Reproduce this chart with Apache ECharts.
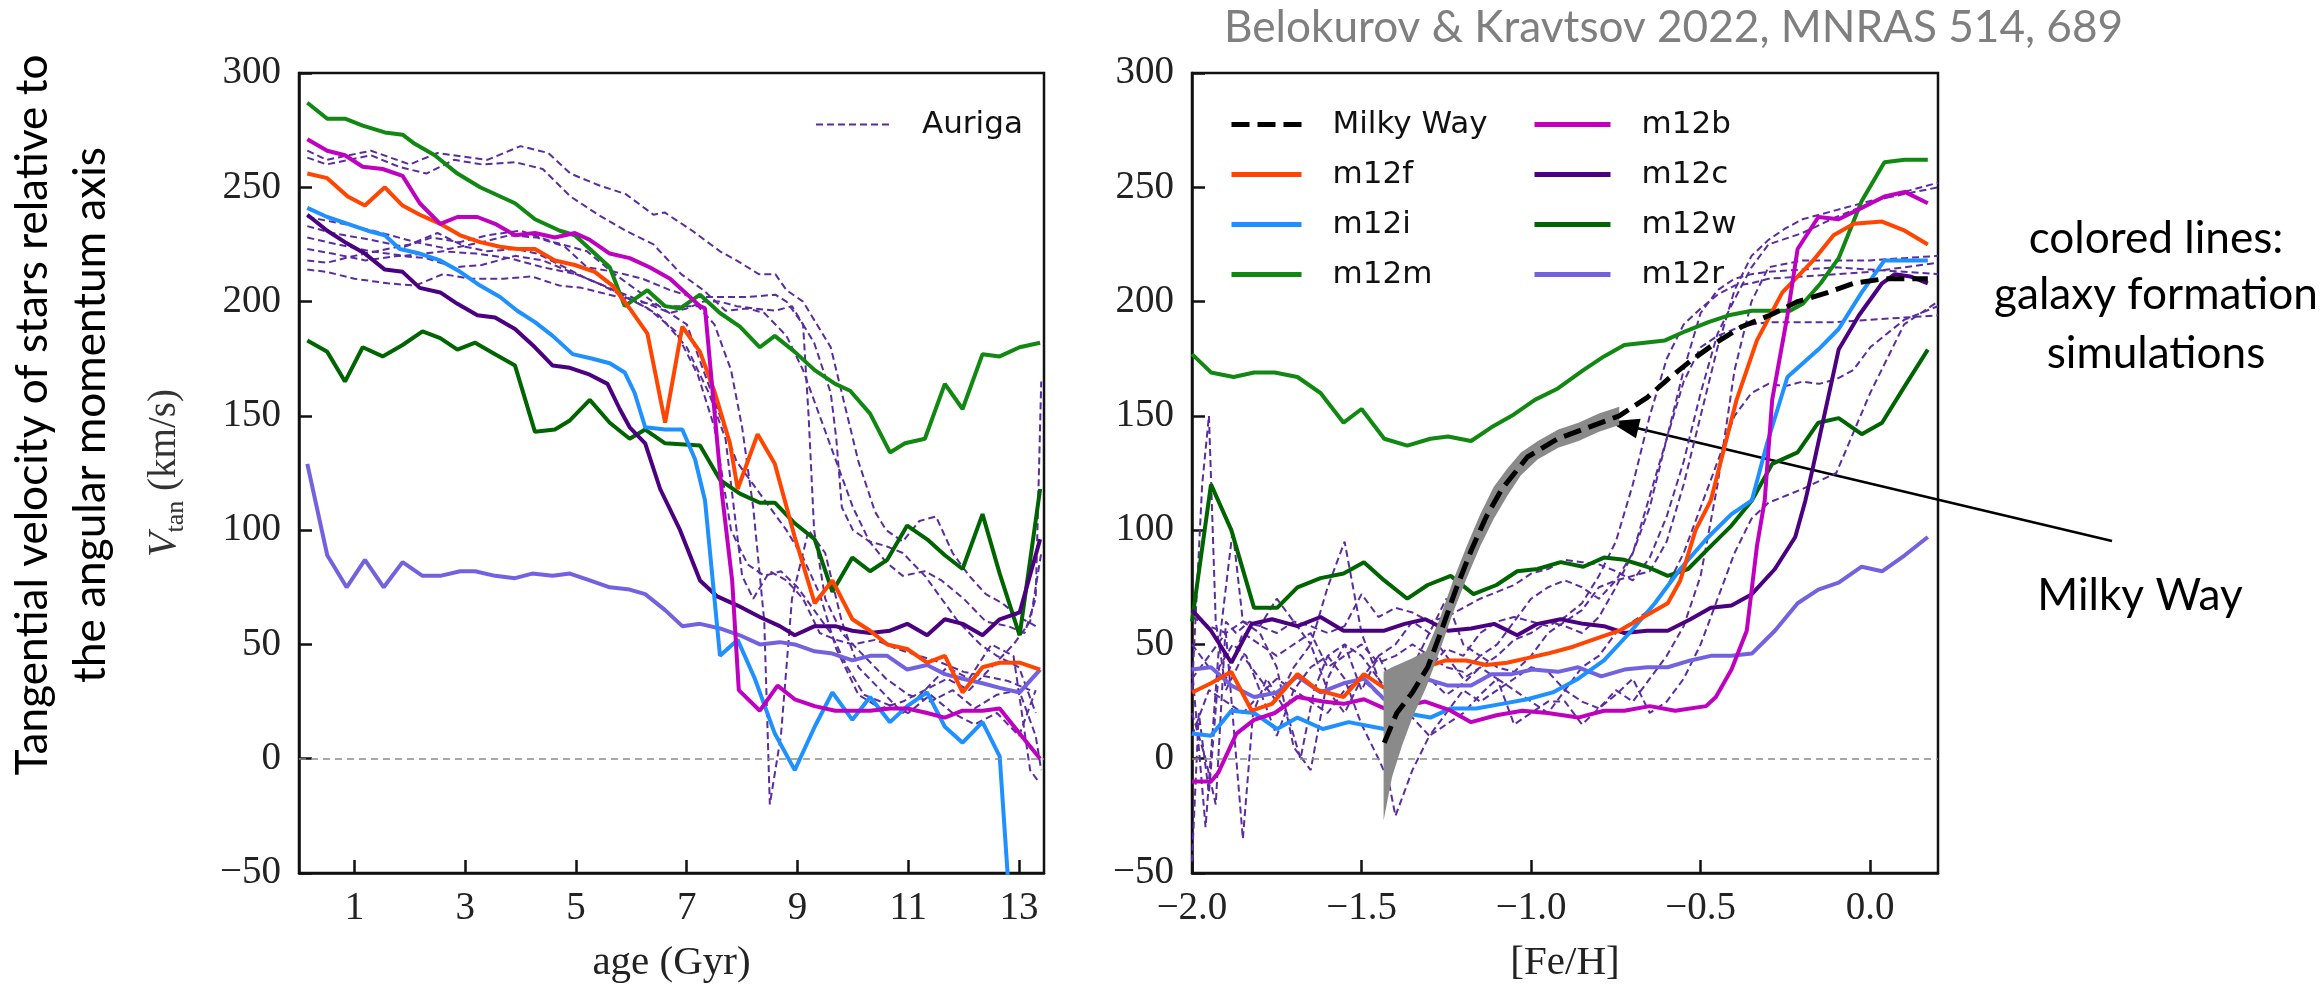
<!DOCTYPE html>
<html><head><meta charset="utf-8">
<script src="https://cdn.jsdelivr.net/npm/echarts@6/dist/echarts.min.js"></script>
<style>html,body{margin:0;padding:0;background:#fff}#c{width:2323px;height:989px}</style>
</head><body><div id="c"></div>
<script>
// ---------- LEFT PANEL: age (Gyr) vs V_tan ----------
const ageM12m = [0.15,0.51,0.83,1.15,1.55,1.87,2.09,2.45,2.86,3.27,3.90,4.26,4.71,4.98,5.34,5.61,5.88,6.29,6.61,6.88,7.24,7.60,7.96,8.32,8.59,8.95,9.31,9.68,9.95,10.31,10.67,10.94,11.30,11.66,11.98,12.34,12.65,13.01,13.38];
const vAgeM12m = [287,280,280,277,274,273,269,264,256,250,243,236,231,229,221,215,198,205,198,197,203,195,189,180,185,178,170,164,161,151,134,138,140,164,153,177,176,180,182];
const ageM12w = [0.15,0.51,0.83,1.15,1.51,1.87,2.23,2.55,2.86,3.18,3.54,3.90,4.26,4.62,4.89,5.25,5.61,5.97,6.25,6.61,7.24,7.60,7.96,8.32,8.59,8.95,9.31,9.63,9.99,10.31,10.62,10.98,11.34,11.66,11.98,12.34,12.65,13.01,13.38];
const vAgeM12w = [183,178,165,180,176,181,187,184,179,182,177,172,143,144,148,157,147,140,144,138,137,122,116,112,112,103,96,73,88,82,87,102,96,89,83,107,81,54,118];
const ageM12b = [0.15,0.51,0.83,1.15,1.51,1.87,2.18,2.55,2.86,3.22,3.54,3.90,4.26,4.62,4.98,5.25,5.61,5.97,6.33,6.70,6.97,7.24,7.33,7.64,7.82,7.94,8.32,8.64,8.95,9.31,9.68,9.99,10.31,10.67,10.98,11.34,11.66,11.98,12.34,12.65,13.01,13.38];
const vAgeM12b = [271,266,264,259,258,255,243,234,237,237,234,229,230,228,230,227,221,219,215,210,204,198,197,115,78,30,21,32,26,23,21,21,21,22,22,20,18,21,21,22,11,0];
const ageM12f = [0.15,0.51,0.88,1.19,1.55,1.87,2.18,2.55,2.91,3.27,3.63,3.94,4.26,4.62,4.98,5.34,5.66,5.97,6.29,6.61,6.92,7.24,7.51,7.78,7.92,8.28,8.59,8.95,9.31,9.63,9.99,10.31,10.62,10.98,11.34,11.66,11.98,12.34,12.65,13.01,13.38];
const vAgeM12f = [256,254,246,242,250,242,238,234,229,226,224,223,223,218,216,213,207,197,186,147,189,178,160,138,118,142,129,97,68,78,61,56,50,48,42,45,29,40,42,42,39];
const ageM12i = [0.15,0.51,0.88,1.24,1.55,1.82,2.18,2.55,2.91,3.27,3.63,3.94,4.26,4.58,4.94,5.30,5.61,5.88,6.06,6.25,6.61,6.92,7.15,7.33,7.60,7.92,8.23,8.59,8.95,9.31,9.63,9.99,10.31,10.67,10.98,11.34,11.66,11.98,12.34,12.65,12.82];
const vAgeM12i = [241,237,234,231,229,223,221,218,213,207,202,196,191,185,177,175,173,169,160,145,144,144,131,113,45,52,35,11,-5,14,29,17,27,16,23,29,14,7,16,1,-60];
const ageM12c = [0.15,0.51,0.83,1.19,1.55,1.87,2.18,2.55,2.86,3.22,3.54,3.90,4.26,4.58,4.89,5.25,5.57,5.79,5.97,6.25,6.52,6.88,7.24,7.55,7.92,8.32,8.68,8.95,9.31,9.68,9.99,10.31,10.67,10.98,11.34,11.66,11.98,12.34,12.65,13.01,13.38];
const vAgeM12c = [238,231,226,221,214,213,206,204,199,194,193,188,180,172,171,168,164,153,145,138,118,100,78,71,67,62,58,54,58,58,56,55,56,59,54,61,59,54,61,64,96];
const ageM12r = [0.15,0.51,0.86,1.19,1.53,1.87,2.23,2.55,2.91,3.18,3.54,3.90,4.21,4.58,4.89,5.25,5.61,5.97,6.25,6.61,6.92,7.24,7.60,7.96,8.32,8.68,8.95,9.31,9.63,9.99,10.31,10.62,10.98,11.34,11.66,11.98,12.34,12.65,13.01,13.38];
const vAgeM12r = [129,89,75,87,75,86,80,80,82,82,80,79,81,80,81,78,75,74,72,65,58,59,57,54,50,51,50,47,46,43,45,45,39,41,37,35,33,31,29,39];

// Auriga (left panel), [age, V_tan]
const aurAge1 = [[0.15,266],[0.5,262],[1.3,266],[2.0,260],[2.5,265],[3.4,262],[4.0,268],[4.5,265],[4.9,256],[5.4,251],[5.9,247],[6.4,238],[6.6,239],[7.1,231],[7.6,222],[7.9,218],[8.3,212],[8.6,212],[8.8,205],[9.1,200],[9.3,192],[9.6,180],[9.8,160],[10.1,130],[10.4,108],[10.6,100],[10.9,95],[11.2,104],[11.5,106],[11.8,90],[12.1,80],[12.4,72],[12.7,68],[13.0,62],[13.3,58]];
const aurAge2 = [[0.15,263],[0.5,260],[0.9,262],[1.3,264],[1.8,259],[2.3,256],[2.8,262],[3.3,260],[3.9,261],[4.4,258],[4.9,246],[5.4,238],[5.9,231],[6.4,225],[6.9,212],[7.3,205],[7.7,196],[8.1,197],[8.4,195],[8.8,185],[9.1,170],[9.4,150],[9.7,130],[10.0,110],[10.3,95],[10.6,86],[10.9,80],[11.3,82],[11.6,78],[12.0,70],[12.4,60],[12.8,58],[13.1,55],[13.3,70],[13.4,165]];
const aurAge3 = [[0.15,237],[0.8,234],[1.5,230],[2.1,226],[2.7,223],[3.3,226],[3.8,229],[4.3,228],[4.8,224],[5.2,215],[5.7,213],[6.2,210],[6.7,205],[7.1,202],[7.6,202],[8.1,202],[8.6,203],[8.8,200],[9.1,190],[9.3,182],[9.6,160],[9.7,140],[9.8,110],[10.0,100],[10.3,95],[10.6,93],[10.9,90],[11.3,80],[11.6,70],[11.9,60],[12.3,50],[12.6,45],[13.0,40],[13.3,20]];
const aurAge4 = [[0.15,233],[0.6,230],[1.3,227],[1.9,224],[2.4,228],[2.9,226],[3.4,229],[4.0,231],[4.6,226],[5.2,222],[5.7,212],[6.1,205],[6.5,198],[7.0,190],[7.3,170],[7.6,150],[7.9,130],[8.2,120],[8.5,110],[8.8,100],[9.1,88],[9.4,72],[9.7,48],[10.1,28],[10.5,22],[10.9,25],[11.3,30],[11.7,35],[12.1,30],[12.5,40],[12.9,50],[13.2,60],[13.4,90]];
const aurAge5 = [[0.15,218],[0.5,217],[1.0,220],[1.4,222],[2.0,225],[2.5,230],[3.0,224],[3.4,222],[3.9,223],[4.3,221],[4.8,215],[5.2,210],[5.7,205],[6.2,200],[6.7,195],[7.0,197],[7.3,200],[7.6,200],[7.9,198],[8.2,197],[8.6,196],[8.9,198],[9.1,190],[9.2,150],[9.3,100],[9.5,70],[9.8,55],[10.2,45],[10.6,35],[11.0,28],[11.4,25],[11.8,30],[12.2,22],[12.6,28],[13.0,30],[13.3,10],[13.4,-5]];
const aurAge6 = [[0.15,214],[0.5,213],[1.0,210],[1.6,208],[2.1,207],[2.6,212],[3.1,210],[3.7,210],[4.2,211],[4.7,207],[5.1,206],[5.6,203],[6.1,200],[6.6,198],[7.2,198],[7.5,190],[7.8,170],[8.0,145],[8.2,110],[8.4,60],[8.5,-20],[8.7,10],[8.9,70],[9.2,100],[9.5,90],[9.8,60],[10.1,40],[10.5,30],[10.9,20],[11.3,30],[11.7,40],[12.1,35],[12.5,50],[12.9,45],[13.2,-5],[13.35,-10]];
const aurAge7 = [[0.15,223],[0.6,221],[1.2,218],[1.8,220],[2.3,219],[2.8,215],[3.3,216],[3.9,220],[4.4,218],[4.9,213],[5.4,208],[5.8,203],[6.3,197],[6.8,187],[7.2,168],[7.5,145],[7.8,100],[8.1,85],[8.4,80],[8.7,82],[9.0,75],[9.3,65],[9.6,55],[9.9,40],[10.2,28],[10.6,24],[11.0,20],[11.4,28],[11.8,20],[12.2,15],[12.6,20],[13.0,10],[13.3,30]];
const aurAge8 = [[0.15,228],[0.7,225],[1.3,222],[1.9,220],[2.6,222],[3.2,221],[3.8,219],[4.4,215],[5.0,212],[5.5,207],[6.0,201],[6.5,194],[7.0,180],[7.4,160],[7.7,140],[8.0,80],[8.2,70],[8.5,82],[8.8,78],[9.1,70],[9.4,55],[9.7,52],[10.0,50],[10.4,52],[10.8,48],[11.2,45],[11.6,42],[12.0,38],[12.4,36],[12.8,34],[13.2,30]];

// ---------- RIGHT PANEL: [Fe/H] vs V_tan ----------
const fehM12m = [-2.00,-1.944,-1.877,-1.817,-1.756,-1.689,-1.621,-1.553,-1.500,-1.433,-1.365,-1.297,-1.245,-1.177,-1.117,-1.057,-0.989,-0.921,-0.846,-0.785,-0.725,-0.665,-0.605,-0.545,-0.477,-0.417,-0.349,-0.289,-0.236,-0.199,-0.146,-0.093,-0.025,0.042,0.102,0.170];
const vFehM12m = [177,169,167,169,169,167,160,147,153,140,137,140,141,139,145,150,157,162,170,176,181,182,183,187,191,194,196,196,196,199,208,219,244,261,262,262];
const fehM12w = [-2.00,-1.944,-1.884,-1.817,-1.749,-1.689,-1.621,-1.553,-1.493,-1.433,-1.365,-1.305,-1.237,-1.170,-1.102,-1.041,-0.981,-0.913,-0.846,-0.785,-0.725,-0.658,-0.597,-0.537,-0.470,-0.409,-0.349,-0.289,-0.214,-0.153,-0.093,-0.025,0.035,0.102,0.170];
const vFehM12w = [60,120,100,66,66,75,79,81,86,78,70,76,80,72,76,82,83,86,84,88,87,84,80,83,93,102,113,129,134,147,149,142,147,163,179];
const fehM12f = [-2.00,-1.944,-1.884,-1.824,-1.764,-1.689,-1.629,-1.553,-1.493,-1.433,-1.373,-1.312,-1.252,-1.192,-1.132,-1.071,-1.011,-0.951,-0.876,-0.800,-0.740,-0.680,-0.597,-0.560,-0.515,-0.470,-0.394,-0.334,-0.259,-0.168,-0.108,-0.048,0.035,0.102,0.170];
const vFehM12f = [29,33,38,21,24,37,30,27,37,31,37,40,43,43,41,42,44,46,49,53,56,61,68,78,100,113,157,183,204,218,229,234,235,231,225];
const fehM12i = [-2.00,-1.944,-1.884,-1.817,-1.749,-1.689,-1.614,-1.538,-1.433,-1.373,-1.297,-1.237,-1.162,-1.086,-1.011,-0.936,-0.861,-0.785,-0.710,-0.635,-0.560,-0.484,-0.409,-0.349,-0.304,-0.244,-0.153,-0.093,-0.025,0.042,0.102,0.170];
const vFehM12i = [11,10,21,20,13,18,13,16,13,20,18,22,22,24,26,29,35,43,55,68,83,96,107,113,138,167,179,188,204,218,218,218];
const fehM12b = [-2.00,-1.944,-1.922,-1.869,-1.817,-1.756,-1.689,-1.614,-1.553,-1.493,-1.433,-1.373,-1.312,-1.237,-1.177,-1.102,-1.026,-0.951,-0.861,-0.785,-0.725,-0.650,-0.575,-0.484,-0.455,-0.409,-0.364,-0.334,-0.311,-0.289,-0.244,-0.214,-0.153,-0.093,-0.025,0.042,0.102,0.170];
const vFehM12b = [-10,-10,-6,11,17,20,27,25,24,26,22,23,25,21,16,19,21,20,18,21,21,23,21,23,27,39,56,93,113,157,194,223,237,236,241,246,248,243];
const fehM12c = [-2.00,-1.944,-1.884,-1.824,-1.764,-1.689,-1.621,-1.553,-1.493,-1.433,-1.373,-1.312,-1.245,-1.177,-1.109,-1.041,-0.981,-0.913,-0.846,-0.785,-0.725,-0.658,-0.597,-0.530,-0.470,-0.409,-0.349,-0.281,-0.221,-0.191,-0.168,-0.093,-0.033,0.035,0.073,0.118,0.170];
const vFehM12c = [65,56,42,59,61,58,62,56,56,56,59,61,56,57,59,54,59,61,59,58,55,56,56,61,66,67,72,83,97,113,128,179,194,208,212,211,208];
const fehM12r = [-2.00,-1.944,-1.884,-1.817,-1.749,-1.689,-1.621,-1.553,-1.493,-1.433,-1.373,-1.312,-1.245,-1.177,-1.117,-1.057,-0.996,-0.921,-0.861,-0.793,-0.725,-0.658,-0.597,-0.530,-0.470,-0.409,-0.349,-0.281,-0.214,-0.153,-0.093,-0.025,0.035,0.102,0.170];
const vFehM12r = [39,40,32,27,29,36,29,33,35,26,36,35,32,32,37,37,39,38,40,36,39,40,40,43,45,45,46,56,68,74,77,84,82,89,97];
const fehMW = [-1.433,-1.396,-1.350,-1.305,-1.267,-1.222,-1.177,-1.132,-1.086,-1.011,-0.921,-0.831,-0.740,-0.658,-0.597,-0.530,-0.455,-0.379,-0.296,-0.214,-0.124,-0.048,0.042,0.102,0.170];
const vFehMW = [7,20,29,40,55,74,91,106,118,132,140,145,150,158,166,174,182,189,194,200,204,208,210,210,210];
const fehBand = [-1.435,-1.41,-1.38,-1.35,-1.31,-1.27,-1.23,-1.19,-1.15,-1.11,-1.07,-1.03,-0.98,-0.92,-0.86,-0.80,-0.74];
const bandHi = [38,40,42,44,47,61,78,93,107,119,127,134,139,144,147,151,154];
const bandLo = [-27,-8,6,18,31,47,64,79,93,105,115,124,131,136,139,143,146];

// Auriga (right panel), [[Fe/H], V_tan]
const aurFeh1 = [[-2.0,62],[-1.95,58],[-1.9,55],[-1.85,60],[-1.8,58],[-1.75,55],[-1.7,60],[-1.65,58],[-1.6,55],[-1.55,58],[-1.5,72],[-1.45,62],[-1.4,66],[-1.35,64],[-1.3,60],[-1.25,62],[-1.2,66],[-1.15,70],[-1.1,73],[-1.05,76],[-1.0,81],[-0.95,83],[-0.9,87],[-0.85,86],[-0.8,85],[-0.75,82],[-0.7,78],[-0.65,88],[-0.6,106],[-0.55,130],[-0.5,160],[-0.45,186],[-0.4,201],[-0.35,215],[-0.3,225],[-0.2,230],[-0.1,237],[0.0,243],[0.1,248],[0.2,252]];
const aurFeh2 = [[-2.0,40],[-1.96,-30],[-1.92,50],[-1.88,100],[-1.85,60],[-1.8,55],[-1.75,40],[-1.7,5],[-1.65,-5],[-1.6,35],[-1.55,50],[-1.5,45],[-1.45,35],[-1.4,20],[-1.35,30],[-1.3,40],[-1.25,48],[-1.2,45],[-1.15,55],[-1.1,60],[-1.05,62],[-1.0,60],[-0.95,58],[-0.9,62],[-0.85,68],[-0.8,80],[-0.75,95],[-0.7,120],[-0.65,150],[-0.6,175],[-0.55,190],[-0.5,197],[-0.45,203],[-0.4,207],[-0.35,208],[-0.3,210],[-0.2,211],[-0.1,212],[0.0,213],[0.1,215],[0.2,217]];
const aurFeh3 = [[-2.0,30],[-1.97,120],[-1.95,150],[-1.93,60],[-1.9,30],[-1.85,45],[-1.8,35],[-1.75,25],[-1.7,40],[-1.65,50],[-1.6,30],[-1.55,20],[-1.5,35],[-1.45,45],[-1.4,30],[-1.35,25],[-1.3,35],[-1.25,28],[-1.2,33],[-1.15,40],[-1.1,45],[-1.05,52],[-1.0,55],[-0.95,60],[-0.9,58],[-0.85,55],[-0.8,62],[-0.75,75],[-0.7,90],[-0.65,110],[-0.6,140],[-0.55,165],[-0.5,180],[-0.45,185],[-0.4,188],[-0.35,190],[-0.3,191],[-0.2,191],[-0.1,191],[0.0,192],[0.1,193],[0.2,194]];
const aurFeh4 = [[-2.0,-45],[-1.98,20],[-1.95,-15],[-1.92,40],[-1.88,50],[-1.84,45],[-1.8,30],[-1.75,10],[-1.7,30],[-1.65,40],[-1.6,45],[-1.55,35],[-1.5,15],[-1.45,0],[-1.42,-10],[-1.4,-25],[-1.35,-5],[-1.3,10],[-1.25,15],[-1.2,20],[-1.15,28],[-1.1,35],[-1.05,30],[-1.0,25],[-0.95,20],[-0.9,30],[-0.85,40],[-0.8,45],[-0.75,55],[-0.7,60],[-0.65,65],[-0.6,75],[-0.55,90],[-0.5,110],[-0.45,130],[-0.4,150],[-0.35,160],[-0.3,164],[-0.25,163],[-0.2,165],[-0.15,164],[-0.1,166],[-0.05,170],[0.0,180],[0.1,192],[0.2,198]];
const aurFeh5 = [[-2.0,35],[-1.95,45],[-1.9,55],[-1.85,-35],[-1.82,20],[-1.78,35],[-1.72,20],[-1.68,0],[-1.64,30],[-1.6,45],[-1.55,50],[-1.5,30],[-1.45,45],[-1.4,50],[-1.35,60],[-1.3,55],[-1.25,45],[-1.2,35],[-1.15,40],[-1.1,35],[-1.05,15],[-1.0,20],[-0.95,25],[-0.9,25],[-0.85,15],[-0.8,22],[-0.75,30],[-0.7,25],[-0.65,35],[-0.6,45],[-0.55,58],[-0.5,80],[-0.45,120],[-0.4,170],[-0.35,200],[-0.3,215],[-0.2,218],[-0.1,218],[0.0,218],[0.1,219],[0.2,220]];
const aurFeh6 = [[-2.0,20],[-1.96,0],[-1.93,-20],[-1.9,60],[-1.87,55],[-1.83,60],[-1.8,58],[-1.75,70],[-1.7,60],[-1.65,50],[-1.6,75],[-1.55,95],[-1.5,55],[-1.45,35],[-1.4,25],[-1.35,40],[-1.3,55],[-1.25,70],[-1.2,50],[-1.15,45],[-1.1,50],[-1.05,60],[-1.0,70],[-0.95,75],[-0.9,78],[-0.85,75],[-0.8,70],[-0.75,78],[-0.7,90],[-0.65,115],[-0.6,140],[-0.55,170],[-0.5,195],[-0.45,205],[-0.4,210],[-0.35,212],[-0.3,213],[-0.2,214],[-0.1,215],[0.0,214],[0.1,213],[0.2,212]];
const aurFeh7 = [[-2.0,10],[-1.95,30],[-1.9,25],[-1.85,20],[-1.8,28],[-1.75,35],[-1.7,30],[-1.65,25],[-1.6,20],[-1.55,30],[-1.5,35],[-1.45,28],[-1.4,22],[-1.35,18],[-1.3,10],[-1.25,20],[-1.2,30],[-1.15,25],[-1.1,30],[-1.05,35],[-1.0,40],[-0.95,38],[-0.9,30],[-0.85,25],[-0.8,22],[-0.75,28],[-0.7,35],[-0.65,20],[-0.6,25],[-0.55,35],[-0.5,50],[-0.45,70],[-0.4,90],[-0.35,105],[-0.3,112],[-0.2,118],[-0.1,125],[0.0,160],[0.1,190],[0.2,200]];
const aurFeh8 = [[-2.0,50],[-1.95,40],[-1.9,35],[-1.85,55],[-1.8,50],[-1.75,45],[-1.7,50],[-1.65,55],[-1.6,40],[-1.55,45],[-1.5,50],[-1.45,42],[-1.4,45],[-1.35,50],[-1.3,45],[-1.25,40],[-1.2,38],[-1.15,45],[-1.1,40],[-1.05,38],[-1.0,45],[-0.95,55],[-0.9,60],[-0.85,65],[-0.8,75],[-0.75,78],[-0.7,80],[-0.65,82],[-0.6,95],[-0.55,120],[-0.5,150],[-0.45,180],[-0.4,205],[-0.35,220],[-0.3,227],[-0.25,232],[-0.2,236],[-0.1,240],[0.0,244],[0.1,247],[0.2,250]];

// tick labels
const ageTicks = [1,3,5,7,9,11,13];
const fehTicks = [-2.0,-1.5,-1.0,-0.5,0.0];

// ---------- chart ----------
const C = {m12f:'#ff4500', m12i:'#1e90ff', m12m:'#118811', m12b:'#c000c0', m12c:'#4b0082', m12w:'#006400', m12r:'#7262e0', aur:'#5a2ca0'};
const zip = (xs, ys) => xs.map((x, i) => [x, ys[i]]);
const minus = s => String(s).replace('-', '\u2212');

function line(name, data, color, g, extra) {
  return Object.assign({
    type:'line', name, xAxisIndex:g, yAxisIndex:g, data, symbol:'none', showSymbol:false,
    lineStyle:{color, width:4}, itemStyle:{color}, clip:true, animation:false, silent:true, z:3
  }, extra || {});
}
const zeroLine = {silent:true, symbol:['none','none'], label:{show:false},
  lineStyle:{color:'#8a8a8a', type:[7,5], width:1.6}, data:[{yAxis:0}], animation:false};
const aurStyle = () => ({lineStyle:{color:C.aur, width:2, type:[7,4]}, z:2});

const series = [];
[aurAge1,aurAge2,aurAge3,aurAge4,aurAge5,aurAge6,aurAge7,aurAge8].forEach((d,i)=>{
  series.push(line('Auriga', d, C.aur, 0, Object.assign(aurStyle(), i===0?{markLine:zeroLine}:{})));
});
series.push(line('m12r', zip(ageM12r, vAgeM12r), C.m12r, 0));
series.push(line('m12w', zip(ageM12w, vAgeM12w), C.m12w, 0));
series.push(line('m12m', zip(ageM12m, vAgeM12m), C.m12m, 0));
series.push(line('m12c', zip(ageM12c, vAgeM12c), C.m12c, 0));
series.push(line('m12i', zip(ageM12i, vAgeM12i), C.m12i, 0));
series.push(line('m12f', zip(ageM12f, vAgeM12f), C.m12f, 0));
series.push(line('m12b', zip(ageM12b, vAgeM12b), C.m12b, 0));

[aurFeh1,aurFeh2,aurFeh3,aurFeh4,aurFeh5,aurFeh6,aurFeh7,aurFeh8].forEach((d,i)=>{
  series.push(line('Auriga', d, C.aur, 1, Object.assign(aurStyle(), i===0?{markLine:zeroLine}:{})));
});
series.push(line('m12m', zip(fehM12m, vFehM12m), C.m12m, 1));
series.push(line('m12w', zip(fehM12w, vFehM12w), C.m12w, 1));
series.push(line('m12r', zip(fehM12r, vFehM12r), C.m12r, 1));
series.push(line('m12c', zip(fehM12c, vFehM12c), C.m12c, 1));
series.push(line('m12i', zip(fehM12i, vFehM12i), C.m12i, 1));
series.push(line('m12f', zip(fehM12f, vFehM12f), C.m12f, 1));
series.push(line('m12b', zip(fehM12b, vFehM12b), C.m12b, 1));
series.push({
  type:'custom', name:'MW band', xAxisIndex:1, yAxisIndex:1, silent:true, animation:false, z:4, clip:true,
  data:[[fehBand[0], bandLo[0]]],
  renderItem: (params, api) => {
    const pts = [];
    fehBand.forEach((f,i) => pts.push(api.coord([f, bandHi[i]])));
    for (let i = fehBand.length-1; i >= 0; i--) pts.push(api.coord([fehBand[i], bandLo[i]]));
    return {type:'polygon', shape:{points:pts}, style:{fill:'#8a8a8a'}};
  }
});
series.push(line('Milky Way', zip(fehMW, vFehMW), '#000', 1, {lineStyle:{color:'#000', width:5, type:[18,8]}, z:5}));

const serif = 'Liberation Serif';
function xAxis(g, min, max, ticks, name, fmt) {
  return {
    type:'value', gridIndex:g, min, max, name, nameLocation:'middle', nameGap:70,
    nameTextStyle:{fontFamily:serif, fontSize:41, color:'#222'},
    axisLine:{show:true, onZero:false, lineStyle:{color:'#111', width:2.5}},
    axisTick:{show:true, inside:true, length:13, customValues:ticks, lineStyle:{color:'#111', width:2.5}},
    axisLabel:{customValues:ticks, formatter:fmt, fontFamily:serif, fontSize:39, color:'#222', margin:16},
    splitLine:{show:false}
  };
}
function yAxis(g, withName) {
  const a = {
    type:'value', gridIndex:g, min:-50, max:300, interval:50,
    axisLine:{show:true, onZero:false, lineStyle:{color:'#111', width:2.5}},
    axisTick:{show:true, inside:true, length:13, lineStyle:{color:'#111', width:2.5}},
    axisLabel:{formatter:v => minus(v), fontFamily:serif, fontSize:39, color:'#222', margin:18},
    splitLine:{show:false}
  };
  if (withName) {
    a.name = '{i|V}{s|tan}{n| (km/s)}';
    a.nameLocation = 'middle';
    a.nameGap = 110;
    a.nameTextStyle = {color:'#333', fontFamily:serif, fontSize:39, rich:{
      i:{fontFamily:serif, fontStyle:'italic', fontSize:40, color:'#333', verticalAlign:'top'},
      s:{fontFamily:serif, fontSize:26, color:'#333', verticalAlign:'top', padding:[19,0,0,0]},
      n:{fontFamily:serif, fontSize:39, color:'#333', verticalAlign:'top', padding:[1,0,0,0]}
    }};
  }
  return a;
}

const legendText = {fontFamily:'DejaVu Sans', fontSize:31, color:'#111', padding:[0,0,0,26]};
const legendCommon = {orient:'vertical', itemHeight:16, itemGap:19, textStyle:legendText, selectedMode:false,
  itemStyle:{opacity:0, borderWidth:0}};
const option = {
  backgroundColor:'#fff',
  animation:false,
  grid:[
    {left:299, top:73, width:745, height:800, show:true, borderColor:'#111', borderWidth:2.5, backgroundColor:'transparent'},
    {left:1192, top:73, width:746, height:800, show:true, borderColor:'#111', borderWidth:2.5, backgroundColor:'transparent'}
  ],
  xAxis:[
    xAxis(0, 0, 13.45, ageTicks, 'age (Gyr)', v => String(v)),
    xAxis(1, -2.0, 0.2, fehTicks, '[Fe/H]', v => minus(v.toFixed(1)))
  ],
  yAxis:[yAxis(0, true), yAxis(1, false)],
  legend:[
    Object.assign({data:['Auriga'], left:810, top:104, itemWidth:75}, legendCommon),
    Object.assign({data:['Milky Way','m12f','m12i','m12m'], left:1224, top:104, itemWidth:70,
      lineStyle:{width:5}}, legendCommon),
    Object.assign({data:['m12b','m12c','m12w','m12r'], left:1527, top:104, itemWidth:76,
      lineStyle:{width:5}}, legendCommon)
  ],
  series
};

const chart = echarts.init(document.getElementById('c'), null, {renderer:'canvas'});
chart.setOption(option);

// ---------- slide annotations ----------
const ctx = document.createElement('canvas').getContext('2d');
ctx.font = '100px Lato';
const S = 100 * 324 / ctx.measureText('galaxy formation').width;
const tstyle = (text, extra) => Object.assign({text, fontFamily:'Lato', fontSize:S, fill:'#000', align:'center', verticalAlign:'middle'}, extra||{});
const tip = chart.convertToPixel({xAxisIndex:1, yAxisIndex:1}, [-0.77, 147.5]);
const tail = [2112, 541];
const dx = tip[0]-tail[0], dy = tip[1]-tail[1], len = Math.hypot(dx, dy);
const ux = dx/len, uy = dy/len, hl = 30, hw = 10;
const base = [tip[0]-ux*hl, tip[1]-uy*hl];
chart.setOption({graphic:[
  {type:'text', x:1224, y:28, style:tstyle('Belokurov & Kravtsov 2022, MNRAS 514, 689', {fill:'#7f7f7f', align:'left'})},
  {type:'text', x:2156, y:239, style:tstyle('colored lines:')},
  {type:'text', x:2156, y:295, style:tstyle('galaxy formation')},
  {type:'text', x:2156, y:354, style:tstyle('simulations')},
  {type:'text', x:2140, y:596, style:tstyle('Milky Way')},
  {type:'text', x:33, y:415, rotation:Math.PI/2, style:tstyle('Tangential velocity of stars relative to')},
  {type:'text', x:91, y:415, rotation:Math.PI/2, style:tstyle('the angular momentum axis')},
  {type:'line', shape:{x1:tail[0], y1:tail[1], x2:base[0]+ux*4, y2:base[1]+uy*4}, style:{stroke:'#000', lineWidth:2.6}},
  {type:'polygon', shape:{points:[tip, [base[0]-uy*hw, base[1]+ux*hw], [base[0]+uy*hw, base[1]-ux*hw]]}, style:{fill:'#000'}}
]});
</script></body></html>
